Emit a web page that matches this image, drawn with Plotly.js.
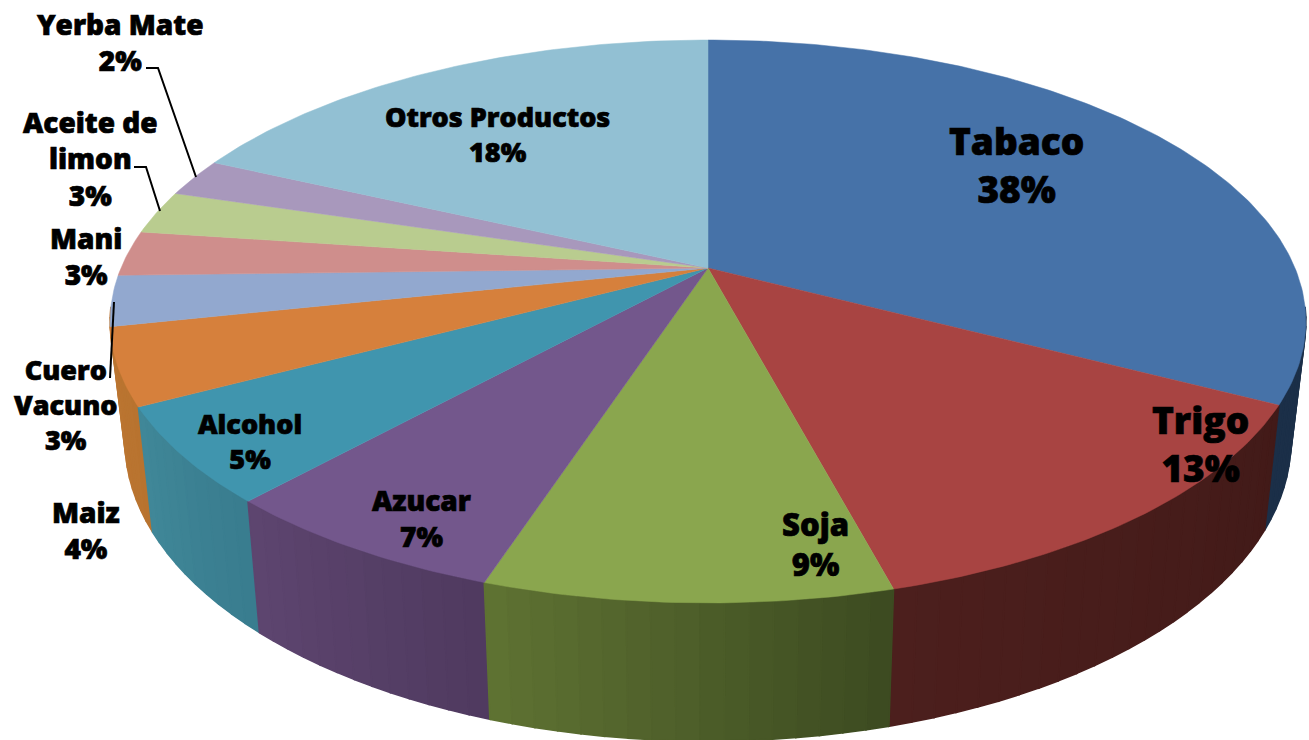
<!DOCTYPE html>
<html>
<head>
<meta charset="utf-8">
<script src="https://cdn.plot.ly/plotly-3.0.1.min.js"></script>
<style>html,body{margin:0;padding:0;background:#fff;overflow:hidden}#chart{width:1309px;height:740px}
.annotation-text{stroke:#000;stroke-width:0.7px;}</style>
</head>
<body>
<div id="chart"></div>
<script>
// ---- data ----
const categories = ["Tabaco","Trigo","Soja","Azucar","Alcohol","Maiz","Cuero<br>Vacuno","Mani","Aceite de<br>limon","Yerba Mate","Otros Productos"];
const sliceShares = [32.6,13.2,9.2,6.7,5.5,4.4,2.9,2.6,2.5,2.2,18.1];
const percentLabels = ["38%","13%","9%","7%","5%","4%","3%","3%","3%","2%","18%"];

// ---- styles ----
const topColors = ["#4672A8","#A84442","#8AA64E","#73578C","#4095AE","#D6803C","#92A8CF","#CF8E8C","#B9CC8F","#A898BC","#92C0D3"];
const wallStart = ["#1B2F48","#421A18","#3C4A20","#4F3A5F","#397C8E","#B8732F","#B8732F","#B8732F","#B8732F","#B8732F","#B8732F"];
const wallEnd   = ["#1B2F48","#4C1F1D","#5F7333","#5E4570","#408898","#BC7632","#BC7632","#BC7632","#BC7632","#BC7632","#BC7632"];
const labelX = [1016,1200,815,421,250,86,66,86,90,120,497];
const labelY = [164,443,544,518,441,530,404,256,158,42,134];
const labelSize = [37,37,31,28,27,28,27,28,28,28,27];

// ---- perspective of the disc ----
const CX=708, CY=268, A=587, B=271.3, K=0.19, SX=0.975, SY=1.066, BOTTOM_CY=384;
function topPt(deg){
  const t=deg*Math.PI/180, w=1+K*Math.cos(t);
  return [A*Math.sin(t)/w, -B*Math.cos(t)/w];
}
const mix=(a,b,f)=>{
  const p=c=>[1,3,5].map(i=>parseInt(c.substr(i,2),16));
  const x=p(a),y=p(b);
  return "rgb("+x.map((v,i)=>Math.round(v+(y[i]-v)*f)).join(",")+")";
};

const total=sliceShares.reduce((a,b)=>a+b,0);
const bounds=[0];
sliceShares.forEach(v=>bounds.push(bounds[bounds.length-1]+v/total*360));

// side wall, as narrow strips painted from the far ends toward the front
const strips=[];
sliceShares.forEach((v,i)=>{
  const a0=Math.max(bounds[i],98), a1=Math.min(bounds[i+1],262);
  if(a1<=a0) return;
  const n=Math.max(1,Math.ceil((a1-a0)/2));
  for(let s=0;s<n;s++){
    const t0=a0+(a1-a0)*s/n, t1=a0+(a1-a0)*(s+1)/n;
    strips.push({t0,t1,color:mix(wallStart[i],wallEnd[i],(s+0.5)/n)});
  }
});
strips.sort((p,q)=>Math.abs(q.t0+q.t1-360)-Math.abs(p.t0+p.t1-360));
const traces=[];
strips.forEach(st=>{
  const xs=[],ys=[];
  for(const d of [st.t0,st.t1]){const p=topPt(d);xs.push(CX+p[0]);ys.push(CY+p[1]);}
  for(const d of [st.t1,st.t0]){const p=topPt(d);xs.push(CX+p[0]*SX);ys.push(BOTTOM_CY+p[1]*SY);}
  xs.push(xs[0]);ys.push(ys[0]);
  traces.push({type:"scatter",mode:"lines",x:xs,y:ys,fill:"toself",fillcolor:st.color,
    line:{color:st.color,width:1.6},hoverinfo:"skip",showlegend:false});
});

// top face
categories.forEach((c,i)=>{
  const xs=[CX],ys=[CY];
  const n=Math.ceil((bounds[i+1]-bounds[i])/0.75);
  for(let s=0;s<=n;s++){
    const p=topPt(bounds[i]+(bounds[i+1]-bounds[i])*s/n);
    xs.push(CX+p[0]);ys.push(CY+p[1]);
  }
  xs.push(CX);ys.push(CY);
  traces.push({type:"scatter",mode:"lines",x:xs,y:ys,fill:"toself",fillcolor:topColors[i],
    line:{color:topColors[i],width:0.5},name:c.replace("<br>"," "),text:percentLabels[i],hoverinfo:"name+text",showlegend:false});
});

const annotations=categories.map((c,i)=>({
  x:labelX[i],y:labelY[i],xref:"x",yref:"y",text:c+"<br>"+percentLabels[i],showarrow:false,
  xanchor:"center",yanchor:"middle",align:"center",
  font:{family:"'Open Sans', Lato, sans-serif",size:labelSize[i],color:"#000",weight:800}
}));
const leader=d=>({type:"path",path:d,xref:"x",yref:"y",line:{color:"#000",width:2},layer:"above"});
const shapes=[leader("M146,68 L158,68 L196,177"),leader("M134,167 L146,167 L160,211"),leader("M114,302 L110,378")];

Plotly.newPlot("chart",traces,{
  width:1309,height:740,margin:{l:0,r:0,t:0,b:0},
  paper_bgcolor:"#fff",plot_bgcolor:"#fff",showlegend:false,
  xaxis:{range:[0,1309],visible:false,fixedrange:true},
  yaxis:{range:[740,0],visible:false,fixedrange:true},
  annotations,shapes
},{displayModeBar:false});
</script>
</body>
</html>
